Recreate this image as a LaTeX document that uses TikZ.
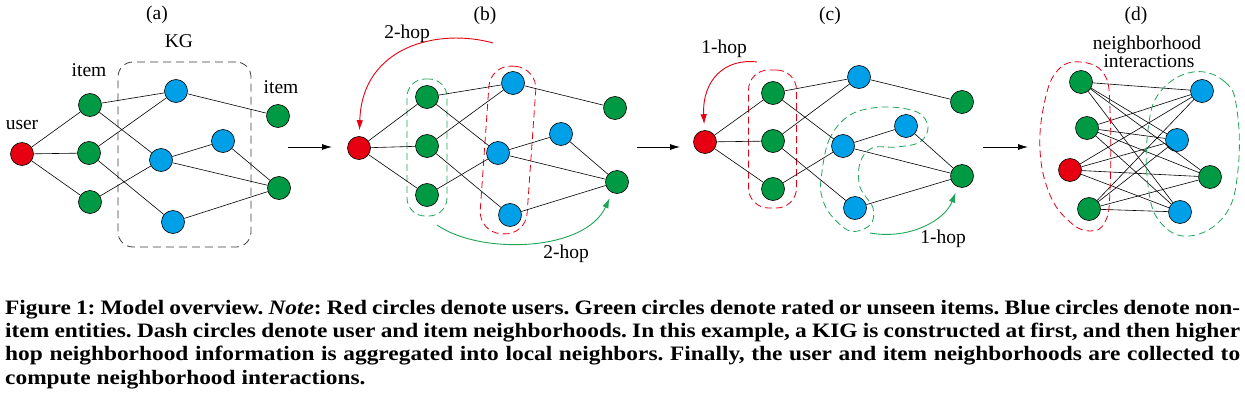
\documentclass[tikz,border=0pt]{standalone}
\usepackage{fontspec}
\setmainfont{Liberation Serif}
\newfontfamily\capfont{Liberation Serif}[FakeStretch=1.14]
\usetikzlibrary{arrows.meta}
\definecolor{ured}{RGB}{230,0,18}
\definecolor{igreen}{RGB}{0,153,68}
\definecolor{eblue}{RGB}{0,160,233}
\definecolor{dgreen}{RGB}{30,165,85}
\definecolor{kggray}{RGB}{60,60,60}
\begin{document}
\frenchspacing
\begin{tikzpicture}[x=1pt,y=-1pt,
  nd/.style={circle,draw=black,line width=0.6pt,minimum size=23pt,inner sep=0pt},
  U/.style={nd,fill=ured}, G/.style={nd,fill=igreen}, B/.style={nd,fill=eblue},
  edge/.style={line width=0.6pt,black},
  lbl/.style={font=\fontsize{19.5}{22}\selectfont,anchor=base,inner sep=0pt},
  dsh/.style={line width=0.8pt,dash pattern=on 7pt off 4pt},
  hop/.style={line width=0.9pt,shorten >=6pt,-{Latex[length=10pt,width=6.5pt]}},
  flow/.style={line width=0.8pt,-{Latex[length=10pt,width=6pt]}},
  captxt/.style={font=\capfont\fontsize{20.5}{22.7}\selectfont\bfseries\frenchspacing,anchor=base west,inner sep=0pt}]
\useasboundingbox (0,0) rectangle (1245,404);

% ---------- panel (a)
\node[lbl] (ta) at (157,19.5) {(a)};
\node[draw=kggray,line width=0.8pt,dash pattern=on 8pt off 5pt,rounded corners=15pt,
      minimum width=133pt,minimum height=185pt] (kg) at (184.5,154.5) {};
\node[lbl] (tkg) at (179,48) {KG};
\node[lbl] (titem1) at (89,77) {item};
\node[lbl] (tuser) at (22,129) {user};
\node[lbl] (titem2) at (281,93) {item};
\node[U] (a-u) at (22,154) {};
\node[G] (a-g1) at (90,105) {};
\node[G] (a-g2) at (89,153) {};
\node[G] (a-g3) at (90,202) {};
\node[B] (a-b1) at (176,91) {};
\node[B] (a-b2) at (161,160) {};
\node[B] (a-b3) at (173,222) {};
\node[B] (a-b4) at (223,141) {};
\node[G] (a-r1) at (278,116) {};
\node[G] (a-r2) at (279,188) {};

% ---------- panel (b)
\node[lbl] (tb) at (485,21) {(b)};
\node[U] (b-u) at (359,148) {};
\node[G] (b-g1) at (427,97) {};
\node[G] (b-g2) at (427,146) {};
\node[G] (b-g3) at (427,195) {};
\node[B] (b-b1) at (513,83) {};
\node[B] (b-b2) at (498,153) {};
\node[B] (b-b3) at (510,215) {};
\node[B] (b-b4) at (561,134) {};
\node[G] (b-r1) at (615,108) {};
\node[G] (b-r2) at (617,182) {};
\node[draw=dgreen,dsh,rounded corners=18pt,minimum width=40pt,minimum height=137pt] (b-gn) at (427,147.5) {};
\node[draw=ured,dsh,rounded corners=22pt,minimum width=47pt,minimum height=168pt,rotate=-4] (b-rn) at (508,150) {};
\coordinate (b-hs) at (493,43);
\coordinate (b-hg) at (437,225);
\draw[hop,ured] (b-hs) .. controls (440,28) and (362,45) .. (b-u);
\draw[hop,dgreen] (b-hg) .. controls (480,255) and (585,252) .. (b-r2);
\node[lbl] (tb1) at (407,39) {2-hop};
\node[lbl] (tb2) at (566,258) {2-hop};

% ---------- panel (c)
\node[lbl] (tc) at (830,21) {(c)};
\node[U] (c-u) at (705,142) {};
\node[G] (c-g1) at (773,93) {};
\node[G] (c-g2) at (773,141) {};
\node[G] (c-g3) at (773,189) {};
\node[B] (c-b1) at (859,77) {};
\node[B] (c-b2) at (843,146) {};
\node[B] (c-b3) at (855,208) {};
\node[B] (c-b4) at (906,126) {};
\node[G] (c-r1) at (962,102) {};
\node[G] (c-r2) at (962,176) {};
\node[draw=ured,dsh,rounded corners=20pt,minimum width=48pt,minimum height=138pt] (c-rn) at (772.5,139) {};
\draw[draw=dgreen,dsh] plot[smooth cycle,tension=0.6] coordinates {(821,180) (829,140) (850,115) (883,107) (917,112) (928,127) (920,142) (897,147) (872,148) (860,163) (860,187) (873,208) (870,225) (850,231) (830,214) (822,197)};
\coordinate (c-hs) at (757,62);
\coordinate (c-hg) at (870,233);
\draw[hop,ured] (c-hs) .. controls (725,58) and (702,80) .. (c-u);
\draw[hop,dgreen] (c-hg) .. controls (910,240) and (945,220) .. (c-r2);
\node[lbl] (tc1) at (724,54) {1-hop};
\node[lbl] (tc2) at (943,243) {1-hop};

% edges of panels a, b, c
\foreach \p in {a,b,c}{
  \foreach \s/\t in {u/g1,u/g2,u/g3,g1/b1,g1/b2,g2/b1,g2/b3,g3/b2,b1/r1,b2/b4,b2/r2,b4/r2,b3/r2}
    \draw[edge] (\p-\s) -- (\p-\t);
}

% ---------- panel (d)
\node[lbl] (td) at (1136,21) {(d)};
\node[lbl] (tn1) at (1147,49) {neighborhood};
\node[lbl] (tn2) at (1149,68) {interactions};
\node[G] (d-l1) at (1081,82) {};
\node[G] (d-l2) at (1087,128) {};
\node[U] (d-l3) at (1070,170) {};
\node[G] (d-l4) at (1089,209) {};
\node[B] (d-r1) at (1202,91) {};
\node[B] (d-r2) at (1177,140) {};
\node[G] (d-r3) at (1210,177) {};
\node[B] (d-r4) at (1180,212) {};
\foreach \i in {1,2,3,4}{\foreach \j in {1,2,3,4}{\draw[edge] (d-l\i) -- (d-r\j);}}
\draw[draw=ured,dsh] plot[smooth cycle,tension=0.7] coordinates {(1080,62) (1104,74) (1110,110) (1110,190) (1105,222) (1090,231) (1070,222) (1050,195) (1040,150) (1045,100) (1058,70)};
\draw[draw=dgreen,dsh] plot[smooth cycle,tension=0.7] coordinates {(1193,72) (1225,82) (1237,110) (1238,170) (1225,215) (1190,236) (1160,222) (1148,185) (1148,130) (1160,92)};

% ---------- flow arrows
\coordinate (f1s) at (288,147); \coordinate (f1e) at (332,147);
\coordinate (f2s) at (637,147); \coordinate (f2e) at (680,147);
\coordinate (f3s) at (983,147); \coordinate (f3e) at (1028,147);
\draw[flow] (f1s) -- (f1e);
\draw[flow] (f2s) -- (f2e);
\draw[flow] (f3s) -- (f3e);

% ---------- caption
\node[captxt] (c1) at (5,314) {\makebox[1235pt][s]{Figure 1: Model overview. \textit{Note}: Red circles denote users. Green circles denote rated or unseen items. Blue circles denote non-}};
\node[captxt] (c2) at (5,337.3) {\makebox[1235pt][s]{item entities. Dash circles denote user and item neighborhoods. In this example, a KIG is constructed at first, and then higher}};
\node[captxt] (c3) at (5,360.7) {\makebox[1235pt][s]{hop neighborhood information is aggregated into local neighbors. Finally, the user and item neighborhoods are collected to}};
\node[captxt] (c4) at (5,384) {compute neighborhood interactions.};
\end{tikzpicture}
\end{document}
